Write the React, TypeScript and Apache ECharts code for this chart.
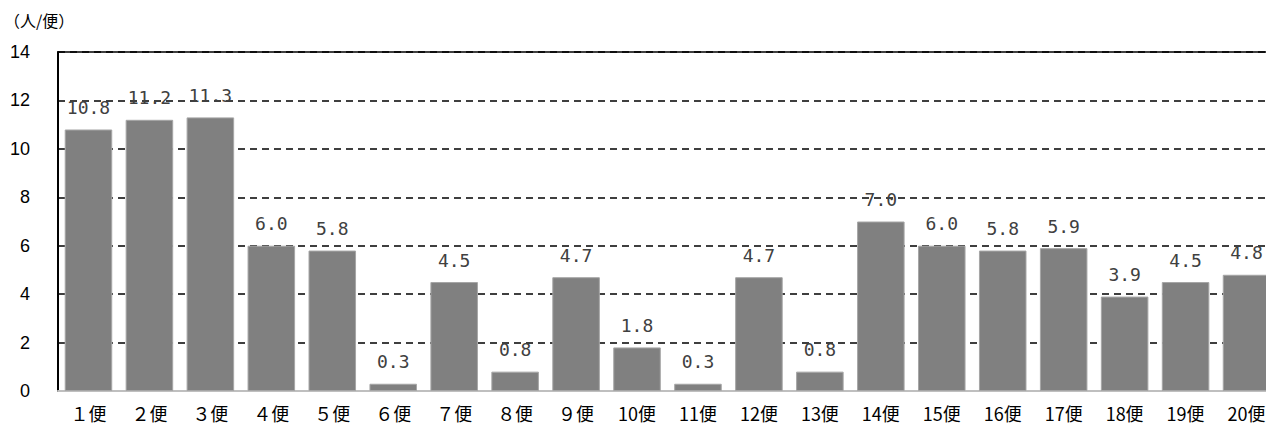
import React, { useEffect, useRef } from "react";
import * as echarts from "echarts";

const categories = ["１便", "２便", "３便", "４便", "５便", "６便", "７便", "８便", "９便", "10便", "11便", "12便", "13便", "14便", "15便", "16便", "17便", "18便", "19便", "20便"];
const values = [10.8, 11.2, 11.3, 6.0, 5.8, 0.3, 4.5, 0.8, 4.7, 1.8, 0.3, 4.7, 0.8, 7.0, 6.0, 5.8, 5.9, 3.9, 4.5, 4.8];
const unitLabel = "（人/便）";

export default function App() {
  const ref = useRef<HTMLDivElement>(null);
  useEffect(() => {
    document.body.style.margin = "0";
    document.body.style.overflow = "hidden";
    const chart = echarts.init(ref.current!, null, { renderer: "svg" });
    chart.setOption({
      animation: false,
      backgroundColor: "#ffffff",
      graphic: [
        {
          type: "text",
          left: 4,
          top: 12,
          style: { text: unitLabel, font: '16px "Noto Sans CJK JP"', fill: "#000" },
        },
      ],
      grid: { left: 58, right: 0, top: 52, bottom: 38, containLabel: false },
      xAxis: [
        {
          type: "category",
          data: categories,
          axisLine: { show: true, lineStyle: { color: "#bfbfbf", width: 2 } },
          axisTick: { show: false },
          axisLabel: { color: "#000", fontSize: 18, fontFamily: "Noto Sans CJK JP", margin: 13 },
        },
        {
          type: "category",
          data: categories,
          position: "top",
          axisLine: { show: true, lineStyle: { color: "#000", width: 1.5 } },
          axisTick: { show: false },
          axisLabel: { show: false },
        },
      ],
      yAxis: {
        type: "value",
        min: 0,
        max: 14,
        interval: 2,
        axisLine: { show: true, lineStyle: { color: "#000", width: 2 } },
        axisTick: { show: false },
        axisLabel: { color: "#000", fontSize: 18, fontFamily: "Liberation Sans", margin: 28 },
        splitLine: {
          show: true,
          lineStyle: { color: "#000", width: 1.5, type: [7, 5] },
        },
      },
      series: [
        {
          type: "bar",
          data: values,
          xAxisIndex: 0,
          barCategoryGap: "22%",
          itemStyle: { color: "#808080", borderColor: "#a6a6a6", borderWidth: 1 },
          label: {
            show: true,
            position: "top",
            distance: 13,
            color: "#404040",
            fontSize: 18,
            fontFamily: "DejaVu Sans Mono",
            formatter: (p: any) => Number(p.value).toFixed(1),
          },
        },
      ],
    });
    return () => chart.dispose();
  }, []);
  return <div ref={ref} style={{ width: 1277, height: 429 }} />;
}
